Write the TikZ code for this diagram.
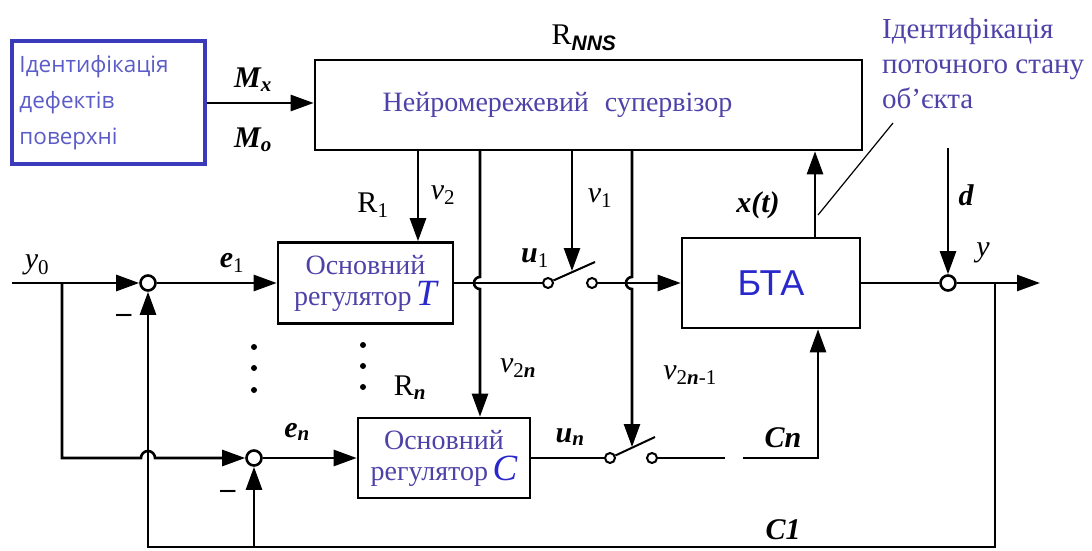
\documentclass[tikz,border=0pt]{standalone}
\usepackage{fontspec}
\setmainfont{Liberation Serif}
\setsansfont{Liberation Sans}
\newfontfamily\uisans{Open Sans}
\usetikzlibrary{positioning, arrows.meta}
\definecolor{defblue}{RGB}{58, 58, 186}
\definecolor{deftext}{RGB}{92, 92, 200}
\definecolor{captext}{RGB}{78, 66, 168}
\definecolor{btatext}{RGB}{40, 40, 205}

\begin{document}
\begin{tikzpicture}[x=1pt, y=1pt,
    wire/.style={line width=2.6pt},
    arrow/.style={wire, -{Triangle[length=23pt, width=16pt]}},
    block/.style={draw, wire, align=center, inner sep=0pt, text=captext, font=\fontsize{28}{31}\selectfont},
    sumnode/.style={draw, wire, circle, fill=white, minimum size=15pt, inner sep=0pt},
    contact/.style={draw, line width=2pt, circle, fill=white, minimum size=10pt, inner sep=0pt},
    lbl/.style={font=\fontsize{30}{32}\selectfont\bfseries\itshape, inner sep=0pt},
    sig/.style={font=\fontsize{30}{32}\selectfont\itshape, inner sep=0pt},
    regname/.style={font=\fontsize{30}{32}\selectfont, inner sep=0pt},
    idnote/.style={text=captext, font=\fontsize{29}{35}\selectfont, inner sep=0pt}
]
    \useasboundingbox (0,0) rectangle (1092,550);

    % blocks
    \node[block, draw=defblue, line width=4pt, minimum width=193pt, minimum height=123pt, text width=178pt, align=left, text=deftext, font=\uisans\fontsize{22.5}{36}\selectfont] (def) at (108.5,447) {Ідентифікація\\дефектів\\поверхні};
    \node[block, minimum width=547pt, minimum height=90pt] (sup) at (588.5,445) {Нейромережевий\hspace{16pt}супервізор\hspace*{62pt}};
    \node[block, minimum width=175pt, minimum height=81pt] (ctrlT) at (365.5,267) {Основний\\регулятор\,{\fontsize{37}{37}\selectfont\itshape\color{btatext}T}};
    \node[block, minimum width=172pt, minimum height=80pt] (ctrlC) at (444,92) {Основний\\регулятор\,{\fontsize{37}{37}\selectfont\itshape\color{btatext}C}};
    \node[block, minimum width=178pt, minimum height=90pt, text=btatext, font=\sffamily\fontsize{36}{36}\selectfont] (bta) at (771,267) {БТА};

    % summing points and switch contacts
    \node[sumnode] (s1) at (148,267) {};
    \node[sumnode] (s2) at (254,92) {};
    \node[sumnode] (s3) at (948,267) {};
    \node[contact] (c1a) at (548,267) {};
    \node[contact] (c1b) at (592,267) {};
    \node[contact] (cna) at (610,92) {};
    \node[contact] (cnb) at (652,92) {};

    % helper points
    \coordinate (in) at (12,267);
    \coordinate (fork) at (62,267);
    \coordinate (hopn) at (141,92);
    \coordinate (tap) at (995,267);
    \coordinate (out) at (1040,267);
    \coordinate (fbl) at (148,3);
    \coordinate (lev1) at (595,288);
    \coordinate (levn) at (655,113);
    \coordinate (v2x) at (418,400);
    \coordinate (v2nx) at (480,400);
    \coordinate (hop2n) at (480,273);
    \coordinate (v1x) at (572,400);
    \coordinate (v1tip) at (572,279);
    \coordinate (vnx) at (632,400);
    \coordinate (hopvn) at (632,273);
    \coordinate (vntip) at (632,103);
    \coordinate (xtx) at (815,0);
    \coordinate (xpt) at (818,335);
    \coordinate (ptr) at (893,427);
    \coordinate (dtop) at (948,402);
    \coordinate (cgap1) at (725,92);
    \coordinate (cgap2) at (743,92);
    \coordinate (cnx) at (818,92);

    % main channel
    \draw[arrow] (in) -- (s1);
    \draw[arrow] (s1) -- (ctrlT);
    \draw[wire] (ctrlT) -- (c1a);
    \draw[line width=2pt] (c1a.25) -- (lev1);
    \draw[arrow] (c1b) -- (bta);
    \draw[wire] (bta) -- (s3);
    \draw[arrow] (s3) -- (out);
    \draw[arrow] (fork) |- (hopn) arc[start angle=180, end angle=0, radius=7] -- (s2);
    \draw[arrow] (s2) -- (ctrlC);
    \draw[wire] (ctrlC) -- (cna);
    \draw[line width=2pt] (cna.25) -- (levn);
    \draw[wire] (cnb) -- (cgap1);
    \draw[arrow] (cgap2) -- (cnx) -- (cnx |- bta.south);

    % feedback
    \draw[arrow] (tap) |- (fbl) -- (s1);
    \draw[arrow] (s2 |- fbl) -- (s2);

    % supervisor links
    \draw[arrow] (def.east) -- (def.east -| sup.west);
    \draw[arrow] (v2x) -- (v2x |- ctrlT.north);
    \draw[arrow] (v2nx) -- (hop2n) arc[start angle=90, end angle=270, radius=6] -- (v2nx |- ctrlC.north);
    \draw[arrow] (v1x) -- (v1tip);
    \draw[arrow] (vnx) -- (hopvn) arc[start angle=90, end angle=270, radius=6] -- (vntip);
    \draw[arrow] (bta.north -| xtx) -- (sup.south -| xtx);
    \draw[line width=1.2pt] (xpt) -- (ptr);
    \draw[arrow] (dtop) -- (s3);

    % dots
    \foreach \yy in {160,182,203} \fill (254,\yy) circle (3pt);
    \foreach \yy in {163,184,205} \fill (363,\yy) circle (3pt);

    % labels
    \node[lbl] (mx) at (253,470) {M\textsubscript{x}};
    \node[lbl] (mo) at (253,410) {M\textsubscript{o}};
    \node[regname] (rnns) at (584,512) {R\textsubscript{\sffamily\bfseries\itshape NNS}};
    \node[regname] (r1) at (373,345) {R\textsubscript{1}};
    \node[regname] (rn) at (410,162) {R\textsubscript{\bfseries\itshape n}};
    \node[sig] (v2) at (443,355) {v\textsubscript{\upshape 2}};
    \node[sig] (v1) at (600,352) {v\textsubscript{\upshape 1}};
    \node[sig] (v2n) at (518,182) {v\textsubscript{\upshape 2\bfseries\itshape n}};
    \node[sig] (v2n1) at (690,175) {v\textsubscript{\upshape 2\textbf{\itshape n}-1}};
    \node[lbl] (u1) at (535,292) {u\textsubscript{\mdseries\upshape 1}};
    \node[lbl] (un) at (570,113) {u\textsubscript{n}};
    \node[sig] (y0) at (37,285) {y\textsubscript{\upshape 0}};
    \node[lbl] (e1) at (232,287) {e\textsubscript{\mdseries\upshape 1}};
    \node[lbl] (en) at (297,118) {e\textsubscript{n}};
    \node[lbl] (mn1) at (124,232) {–};
    \node[lbl] (mn2) at (228,56) {–};
    \node[lbl] (cn) at (783,112) {Cn};
    \node[lbl] (c1) at (783,20) {C1};
    \node[lbl] (xtl) at (758,345) {x(t)};
    \node[lbl] (dl) at (966,355) {d};
    \node[sig] (yl) at (983,297) {y};
    \node[idnote, anchor=north west, align=left] (capid) at (882,532) {Ідентифікація\\поточного стану\\об'єкта};
\end{tikzpicture}
\end{document}
